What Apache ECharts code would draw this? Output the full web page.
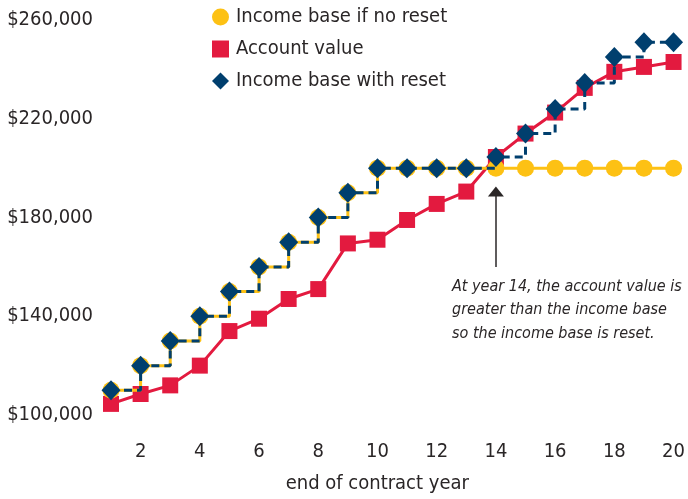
<!DOCTYPE html>
<html>
<head>
<meta charset="utf-8">
<script src="https://cdn.jsdelivr.net/npm/echarts@6/dist/echarts.min.js"></script>
<style>
    html, body { margin: 0; padding: 0; background: #fff; }
    #resetChart { width: 688px; height: 499px; }
</style>
</head>
<body>
<div id="resetChart"></div>
<script>
// 数据
var years = ['1','2','3','4','5','6','7','8','9','10','11','12','13','14','15','16','17','18','19','20'];
var incomeNoReset = [110000,120000,130000,140000,150000,160000,170000,180000,190000,200000,
    200000,200000,200000,200000,200000,200000,200000,200000,200000,200000];
var accountValue = [104500,108500,112000,120000,134000,139000,147000,151000,169500,171000,
    179000,185500,190500,204500,214000,222500,232500,239000,241000,243000];
var incomeWithReset = [110000,120000,130000,140000,150000,160000,170000,180000,190000,200000,
    200000,200000,200000,204500,214000,224000,234500,245000,251000,251000];
var yTicks = [100000, 140000, 180000, 220000, 260000];
var arrowFrom = [13, 160000];
var arrowTo = [13, 190500];
var noteLines = ['At year 14, the account value is', 'greater than the income base', 'so the income base is reset.'];

var resetChart = {};
resetChart.font = "'Liberation Sans Narrow', 'DejaVu Sans Condensed', sans-serif";
resetChart.textColor = '#2a2627';
resetChart.yellow = '#fdc114';
resetChart.red = '#e31a3f';
resetChart.navy = '#003f6e';

resetChart.render = function () {
    var myChart = echarts.init(document.getElementById('resetChart'));
    var option = {
        animation: false,
        grid: {
            left: 111,
            right: 14,
            top: 20,
            bottom: 83
        },
        legend: {
            orient: 'vertical',
            left: 207,
            top: 0,
            itemWidth: 17,
            itemHeight: 17,
            itemGap: 8,
            selectedMode: false,
            textStyle: {
                fontFamily: resetChart.font,
                fontSize: 20,
                lineHeight: 24,
                color: resetChart.textColor,
                padding: [0, 0, 0, 2]
            },
            data: [
                {name: 'Income base if no reset', icon: 'circle'},
                {name: 'Account value', icon: 'rect'},
                {name: 'Income base with reset', icon: 'diamond'}
            ]
        },
        xAxis: {
            type: 'category',
            data: years,
            boundaryGap: false,
            name: 'end of contract year',
            nameLocation: 'middle',
            nameGap: 59,
            nameTextStyle: {
                fontFamily: resetChart.font,
                fontSize: 20,
                color: resetChart.textColor,
                padding: [0, 30, 0, 0]
            },
            axisLine: {show: false},
            axisTick: {show: false},
            axisLabel: {
                interval: function (index) { return index % 2 === 1; },
                margin: 27,
                fontFamily: resetChart.font,
                fontSize: 20,
                color: resetChart.textColor
            }
        },
        yAxis: {
            type: 'value',
            min: yTicks[0],
            max: yTicks[yTicks.length - 1],
            interval: yTicks[1] - yTicks[0],
            axisLine: {show: false},
            axisTick: {show: false},
            splitLine: {show: false},
            axisLabel: {
                margin: 18,
                fontFamily: resetChart.font,
                fontSize: 20,
                color: resetChart.textColor,
                formatter: function (v) {
                    return '$' + String(v).replace(/\B(?=(\d{3})+(?!\d))/g, ',');
                }
            }
        },
        series: [
            {
                name: 'Account value',
                type: 'line',
                data: accountValue,
                symbol: 'rect',
                symbolSize: 16,
                showAllSymbol: true,
                z: 2,
                itemStyle: {color: resetChart.red},
                lineStyle: {color: resetChart.red, width: 3},
                markLine: {
                    silent: true,
                    symbol: ['none', 'triangle'],
                    symbolSize: [16, 10],
                    label: {show: false},
                    lineStyle: {color: resetChart.textColor, width: 1.5, type: 'solid'},
                    data: [[{coord: arrowFrom}, {coord: arrowTo}]]
                }
            },
            {
                name: 'Income base if no reset',
                type: 'line',
                data: incomeNoReset,
                step: 'end',
                symbol: 'circle',
                symbolSize: 17,
                showAllSymbol: true,
                z: 3,
                itemStyle: {color: resetChart.yellow},
                lineStyle: {color: resetChart.yellow, width: 3}
            },
            {
                name: 'Income base with reset',
                type: 'line',
                data: incomeWithReset,
                step: 'end',
                symbol: 'diamond',
                symbolSize: [19, 20],
                showAllSymbol: true,
                z: 4,
                itemStyle: {color: resetChart.navy},
                lineStyle: {color: resetChart.navy, width: 3, type: [8, 5]}
            }
        ],
        graphic: [{
            type: 'text',
            left: 452,
            top: 275,
            style: {
                text: noteLines.join('\n'),
                fontFamily: resetChart.font,
                fontStyle: 'italic',
                fontSize: 16,
                lineHeight: 23.5,
                fill: resetChart.textColor
            }
        }]
    };
    myChart.setOption(option);
};

resetChart.render();
</script>
</body>
</html>
